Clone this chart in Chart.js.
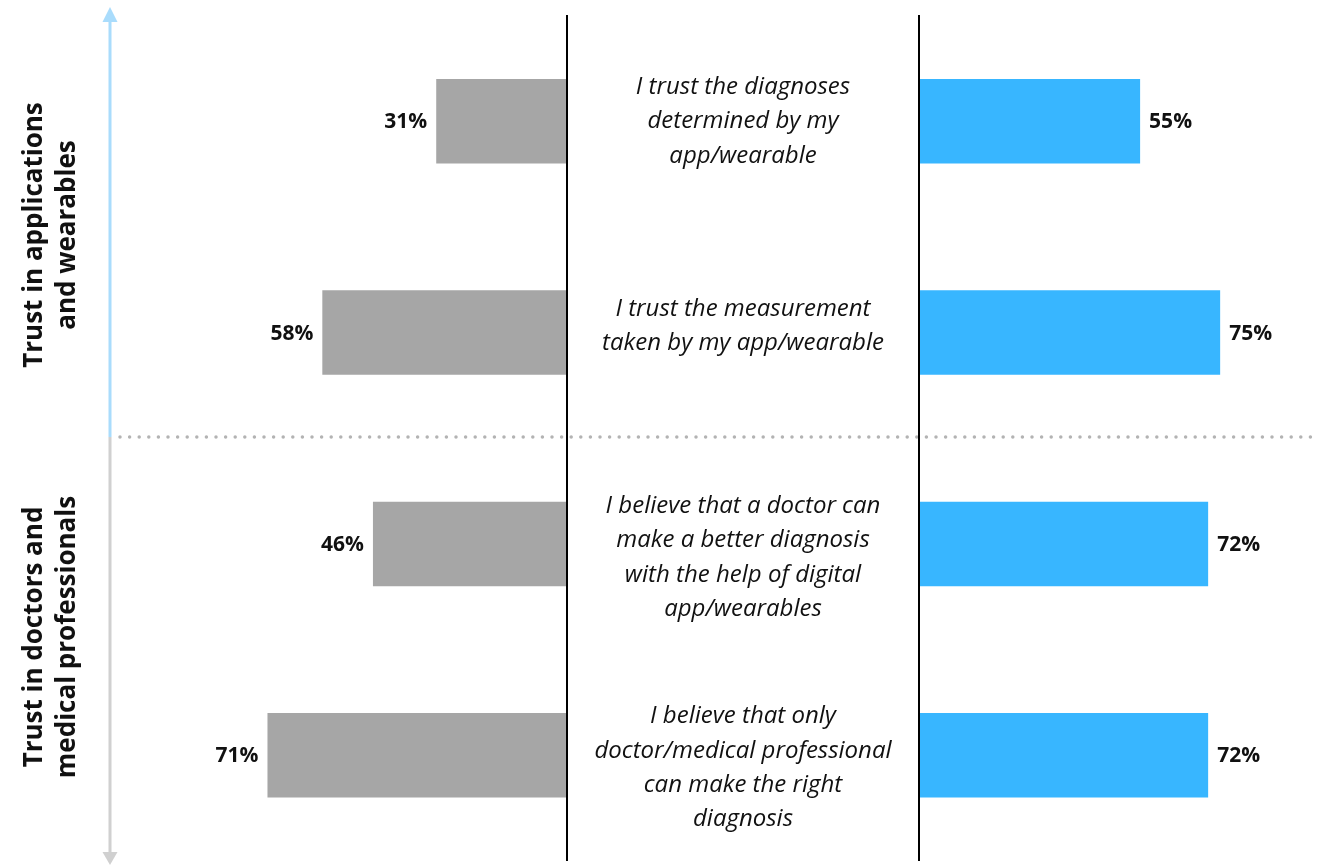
<!DOCTYPE html>
<html>
<head>
<meta charset="utf-8">
<script src="https://cdn.jsdelivr.net/npm/chart.js@4.4.1/dist/chart.umd.min.js"></script>
<style>
  html, body { margin: 0; padding: 0; background: #fff; }
  #stage { position: relative; width: 1317px; height: 865px; overflow: hidden; font-family: "Open Sans", sans-serif; }
  #stage canvas { position: absolute; top: 0; }
  #leftChart { left: 0; }
  #rightChart { left: 920px; }
  .divider { position: absolute; top: 15px; height: 846px; width: 2px; background: #000; }
  .statement { position: absolute; left: 567px; width: 352px; text-align: center; font-style: italic;
               font-size: 24px; line-height: 34.3px; color: #111; transform: translateY(-50%); white-space: nowrap; }
  .group { position: absolute; font-weight: 700; font-size: 26px; line-height: 33px; color: #111;
           text-align: center; white-space: nowrap; transform: translate(-50%, -50%) rotate(-90deg); }
</style>
</head>
<body>
<div id="stage">
  <svg width="1317" height="865" style="position:absolute;left:0;top:0">
    <line x1="120" y1="437" x2="1317" y2="437" stroke="#b3b3b3" stroke-width="3.5" stroke-linecap="round" stroke-dasharray="0 9.6"/>
    <line x1="110" y1="20" x2="110" y2="437" stroke="#a9dcfc" stroke-width="3"/>
    <polygon points="110,7 102.5,22 117.5,22" fill="#a9dcfc"/>
    <line x1="110" y1="437" x2="110" y2="853" stroke="#d0d0d0" stroke-width="3"/>
    <polygon points="110,865 102.5,852 117.5,852" fill="#d0d0d0"/>
  </svg>
  <canvas id="leftChart" width="567" height="865"></canvas>
  <canvas id="rightChart" width="397" height="865"></canvas>
  <div class="divider" style="left:566px"></div>
  <div class="divider" style="left:918px"></div>
</div>
<script>
// Survey statements (one per row, already broken into display lines)
const statements = [
  ["I trust the diagnoses", "determined by my", "app/wearable"],
  ["I trust the measurement", "taken by my app/wearable"],
  ["I believe that a doctor can", "make a better diagnosis", "with the help of digital", "app/wearables"],
  ["I believe that only", "doctor/medical professional", "can make the right", "diagnosis"]
];

// Share of respondents agreeing (%), grey series on the left, blue on the right
const leftShares = [31, 58, 46, 71];
const rightShares = [55, 75, 72, 72];

// Group captions along the left arrow
const groupLabels = [
  ["Trust in applications", "and wearables"],
  ["Trust in doctors and", "medical professionals"]
];

// Percentage labels at the outer end of each bar
const valueLabels = {
  id: 'valueLabels',
  afterDatasetsDraw(chart, args, opts) {
    const ctx = chart.ctx;
    const meta = chart.getDatasetMeta(0);
    const values = chart.data.datasets[0].data;
    ctx.save();
    ctx.font = '700 21px "Open Sans"';
    ctx.fillStyle = '#111';
    ctx.textBaseline = 'middle';
    ctx.textAlign = opts.side === 'left' ? 'right' : 'left';
    meta.data.forEach((bar, i) => {
      const x = opts.side === 'left' ? bar.x - 9 : bar.x + 9;
      ctx.fillText(values[i] + '%', x, bar.y + 1);
    });
    ctx.restore();
  }
};

function barChart(id, values, color, max, reverse, side) {
  return new Chart(document.getElementById(id), {
    type: 'bar',
    data: {
      labels: statements.map(s => s.join(' ')),
      datasets: [{ data: values, backgroundColor: color, borderWidth: 0,
                   barPercentage: 0.4, categoryPercentage: 1 }]
    },
    options: {
      indexAxis: 'y',
      responsive: false,
      animation: false,
      layout: { padding: { top: 15.5, bottom: 4, left: 0, right: 0 } },
      scales: {
        x: { display: false, min: 0, max: max, reverse: reverse },
        y: { display: false }
      },
      plugins: {
        legend: { display: false },
        tooltip: { enabled: false },
        valueLabels: { side: side }
      }
    },
    plugins: [valueLabels]
  });
}

const leftChart = barChart('leftChart', leftShares, '#a6a6a6', 134.4, true, 'left');
const rightChart = barChart('rightChart', rightShares, '#38b6ff', 99.2, false, 'right');

// Statement text in the middle column, placed on each row of the category scale
const stage = document.getElementById('stage');
const textNudge = [-2, -9, 12, 11];
statements.forEach((lines, i) => {
  const div = document.createElement('div');
  div.className = 'statement';
  div.innerHTML = lines.join('<br>');
  div.style.top = (rightChart.scales.y.getPixelForValue(i) + textNudge[i]) + 'px';
  stage.appendChild(div);
});

// Rotated group captions
const groupCenters = [235, 637];
groupLabels.forEach((lines, i) => {
  const div = document.createElement('div');
  div.className = 'group';
  div.innerHTML = lines.join('<br>');
  div.style.left = '49px';
  div.style.top = groupCenters[i] + 'px';
  stage.appendChild(div);
});
</script>
</body>
</html>
